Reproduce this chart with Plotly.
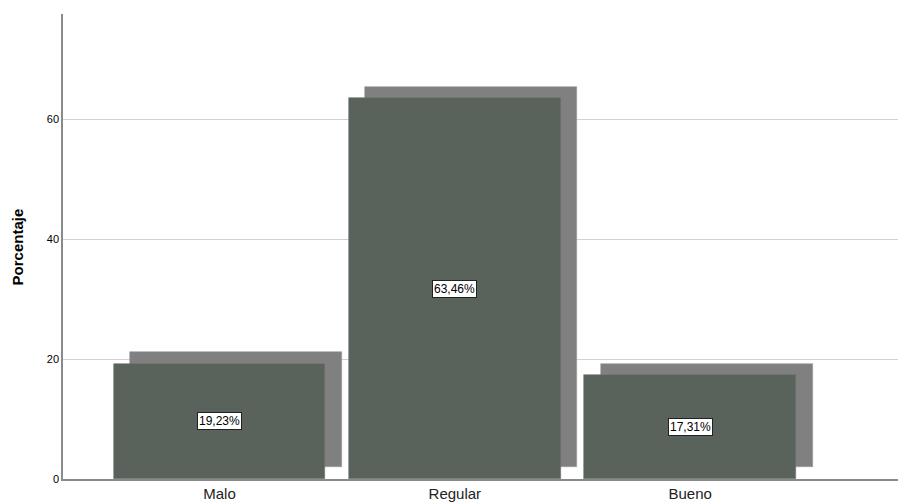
import plotly.graph_objects as go

categories = ["Malo", "Regular", "Bueno"]
percentages = [19.23, 63.46, 17.31]
y_ticks = [0, 20, 40, 60]

x_pos = list(range(len(categories)))
SHADOW_DX = 0.07   # category units
SHADOW_DY = 1.92   # percentage units
BAR_W = 0.90

fig = go.Figure()
# shadow bars
fig.add_trace(go.Bar(
    x=[x + SHADOW_DX for x in x_pos], y=percentages, base=[SHADOW_DY] * len(percentages),
    width=BAR_W, marker=dict(color="#808080", line=dict(color="#9a9a9a", width=0.6)),
    hoverinfo="skip", showlegend=False))
# front bars
fig.add_trace(go.Bar(
    x=x_pos, y=percentages, width=BAR_W,
    marker=dict(color="#5a625c", line=dict(color="#6e7670", width=0.6)),
    showlegend=False))

for x, v in zip(x_pos, percentages):
    fig.add_annotation(x=x, y=v / 2, text=f"{v:.2f}%".replace(".", ","),
                       showarrow=False, bgcolor="white", bordercolor="#222",
                       borderwidth=1, borderpad=1,
                       font=dict(family="Liberation Sans, Arial", size=12, color="black"))

fig.add_annotation(xref="paper", yref="paper", x=-0.054, y=0.5, text="<b>Porcentaje</b>",
                   textangle=-90, showarrow=False, xanchor="center", yanchor="middle",
                   font=dict(family="Liberation Sans, Arial", size=15, color="black"))

fig.update_layout(
    width=898, height=504, margin=dict(l=63, r=0, t=14, b=25),
    plot_bgcolor="white", paper_bgcolor="white", barmode="overlay", bargap=0,
    font=dict(family="Liberation Sans, Arial", color="black"),
    xaxis=dict(range=[-0.665, 2.883], tickvals=x_pos, ticktext=categories,
               showgrid=False, showline=True, linecolor="#8a8a8a", linewidth=1.5,
               ticks="", zeroline=False, tickfont=dict(size=15, color="#222")),
    yaxis=dict(range=[0, 77.5], tickvals=y_ticks, showgrid=True, gridcolor="#d2d2d2",
               gridwidth=1, showline=True, linecolor="#8a8a8a", linewidth=1.5,
               ticks="", zeroline=False, tickfont=dict(size=11, color="black")),
)

fig.write_html("out.html", config={"displayModeBar": False},
               post_script="document.body.style.margin='0';document.body.style.overflow='hidden';")
